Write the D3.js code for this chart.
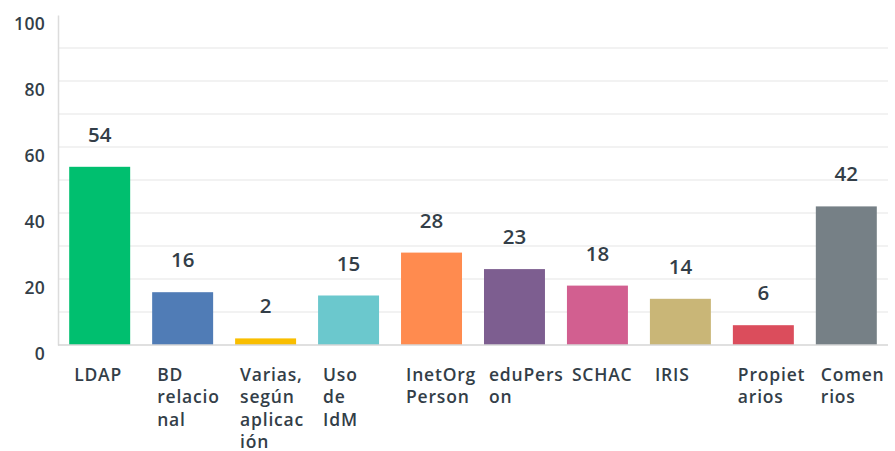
<!DOCTYPE html>
<html>
<head>
<meta charset="utf-8">
<script src="https://cdn.jsdelivr.net/npm/d3@7"></script>
<style>
  html, body { margin: 0; padding: 0; background: #fff; }
  svg { display: block; font-family: "Open Sans", sans-serif; }
</style>
</head>
<body>
<svg id="chart" width="895" height="451"></svg>
<script>
const categories = ["LDAP", "BD relacional", "Varias, según aplicación", "Uso de IdM", "InetOrgPerson", "eduPerson", "SCHAC", "IRIS", "Propietarios", "Comentarios"];
const categoryLines = [["LDAP"], ["BD", "relacio", "nal"], ["Varias,", "según", "aplicac", "ión"], ["Uso", "de", "IdM"], ["InetOrg", "Person"], ["eduPers", "on"], ["SCHAC"], ["IRIS"], ["Propiet", "arios"], ["Comen", "rios"]];
const values = [54, 16, 2, 15, 28, 23, 18, 14, 6, 42];
const colors = ["#00BF6F", "#507CB6", "#F9BE00", "#6BC8CD", "#FF8B4F", "#7D5E90", "#D25F90", "#C9B677", "#DB4D5C", "#768086"];
const yTicks = [0, 20, 40, 60, 80, 100];
const yGrid = [10, 20, 30, 40, 50, 60, 70, 80, 90];

(function () {
const svg = d3.select("#chart");
const textColor = "#333E48";
const mLeft = 58, mRight = 888, mTop = 15, mBottom = 345;

const x = d3.scaleBand().domain(categories).range([mLeft, mRight]).paddingInner(0.265).paddingOuter(0.135);
const y = d3.scaleLinear().domain([0, 100]).range([mBottom, mTop]);

// grid
svg.append("g").selectAll("line").data(yGrid).join("line")
  .attr("x1", mLeft).attr("x2", mRight)
  .attr("y1", d => y(d)).attr("y2", d => y(d))
  .attr("stroke", "#eeeeee").attr("stroke-width", 1.5);

// y axis
const yAxis = d3.axisLeft(y).tickValues(yTicks).tickSize(0).tickPadding(13);
const gy = svg.append("g").attr("transform", `translate(${mLeft},0)`).call(yAxis);
gy.select(".domain").attr("stroke", "#dcdcdc").attr("stroke-width", 1.5);
gy.selectAll("text")
  .attr("fill", textColor).attr("font-size", "17.5px").attr("font-weight", 600)
  .attr("font-family", "'Open Sans', sans-serif")
  .attr("letter-spacing", "0.3px")
  .attr("dy", "0.8em");

// bars
svg.append("g").selectAll("rect").data(values).join("rect")
  .attr("x", (d, i) => x(categories[i]))
  .attr("width", x.bandwidth())
  .attr("y", d => y(d))
  .attr("height", d => y(0) - y(d))
  .attr("fill", (d, i) => colors[i]);

// baseline
svg.append("line").attr("x1", mLeft).attr("x2", mRight)
  .attr("y1", y(0)).attr("y2", y(0))
  .attr("stroke", "#d6d6d6").attr("stroke-width", 1.5);

// value labels
svg.append("g").selectAll("text").data(values).join("text")
  .attr("x", (d, i) => x(categories[i]) + x.bandwidth() / 2)
  .attr("y", d => y(d) - 25)
  .attr("text-anchor", "middle")
  .attr("fill", textColor).attr("font-size", "20.5px").attr("font-weight", 600)
  .text(d => d);

// category labels
const cat = svg.append("g").selectAll("text").data(categories).join("text")
  .attr("x", d => x(d) + 5)
  .attr("y", 381)
  .attr("fill", textColor).attr("font-size", "17.5px").attr("font-weight", 600)
  .attr("letter-spacing", "0.8px");
cat.each(function(d, i) {
  d3.select(this).selectAll("tspan").data(categoryLines[i]).join("tspan")
    .attr("x", x(d) + 5)
    .attr("dy", (t, j) => j === 0 ? 0 : 22.3)
    .text(t => t);
});
})();
</script>
</body>
</html>
